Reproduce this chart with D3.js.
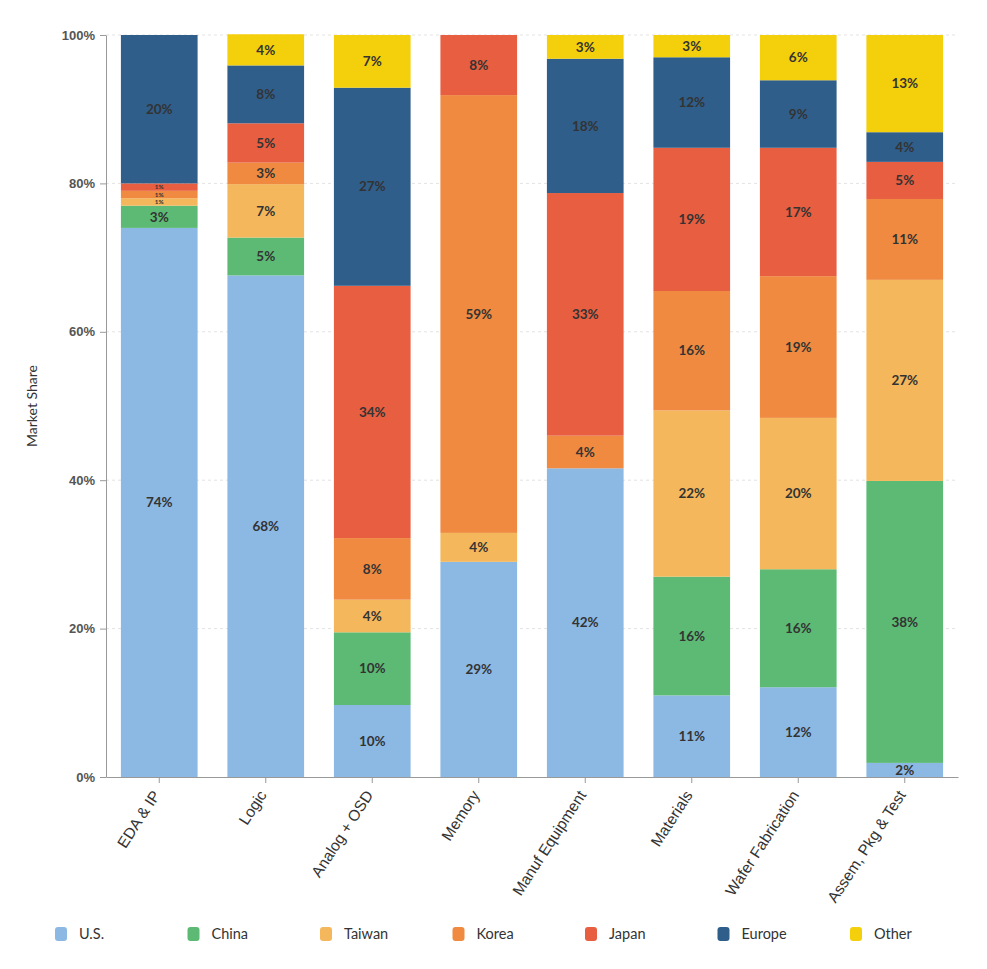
<!DOCTYPE html>
<html>
<head>
<meta charset="utf-8">
<script src="https://cdn.jsdelivr.net/npm/d3@7"></script>
<style>
  body { margin: 0; background: #fff; }
  svg { font-family: "Lato", "Open Sans", sans-serif; }
</style>
</head>
<body>
<svg id="chart" width="987" height="969"></svg>
<script>
// segments, categories and share values (percent)
let regions = ["U.S.", "China", "Taiwan", "Korea", "Japan", "Europe", "Other"];
let segments = ["EDA & IP", "Logic", "Analog + OSD", "Memory", "Manuf Equipment", "Materials", "Wafer Fabrication", "Assem, Pkg & Test"];
let usShare     = [74, 67.6, 9.7, 29, 41.6, 11, 12.1, 1.9];
let chinaShare  = [3, 5.1, 9.8, 0, 0, 16, 15.9, 38];
let taiwanShare = [1, 7.2, 4.4, 3.9, 0, 22.4, 20.4, 27.1];
let koreaShare  = [1, 2.9, 8.3, 59, 4.4, 16.1, 19.1, 10.9];
let japanShare  = [1, 5.3, 34, 8.1, 32.7, 19.3, 17.3, 5];
let europeShare = [20, 7.8, 26.7, 0, 18.1, 12.2, 9.1, 4];
let otherShare  = [0, 4.2, 7.1, 0, 3.2, 3, 6.1, 13.1];
let yTicks = [0, 20, 40, 60, 80, 100];
let colors = ["#8cb9e4", "#5cba74", "#f4b75b", "#ef8a40", "#e75e40", "#2f5e8b", "#f4cf0b"];

let seriesVals = [usShare, chinaShare, taiwanShare, koreaShare, japanShare, europeShare, otherShare];
let rows = segments.map((s, i) => {
  let r = { segment: s };
  regions.forEach((reg, j) => r[reg] = seriesVals[j][i]);
  return r;
});

let svg = d3.select("svg#chart");
let margin = { left: 106, right: 29, top: 35, bottom: 192 };
let W = 987, H = 969;

let x = d3.scaleBand()
  .domain(segments)
  .range([margin.left, W - margin.right])
  .paddingInner(0.28)
  .paddingOuter(0.14);

let y = d3.scaleLinear()
  .domain([0, 100])
  .range([H - margin.bottom, margin.top]);

let color = d3.scaleOrdinal().domain(regions).range(colors);

// gridlines
svg.append("g")
  .selectAll("line")
  .data(yTicks.filter(d => d > 0))
  .enter()
  .append("line")
  .attr("x1", margin.left)
  .attr("x2", W - margin.right)
  .attr("y1", d => y(d))
  .attr("y2", d => y(d))
  .style("stroke", "#e3e3e3")
  .style("stroke-dasharray", "3,3");

let stack = d3.stack().keys(regions)(rows);

let layers = svg.append("g")
  .selectAll("g")
  .data(stack)
  .enter()
  .append("g")
  .style("fill", d => color(d.key));

layers.selectAll("rect")
  .data(d => d.filter(p => p[1] - p[0] > 0))
  .enter()
  .append("rect")
  .attr("x", d => x(d.data.segment))
  .attr("width", x.bandwidth())
  .attr("y", d => y(d[1]))
  .attr("height", d => y(d[0]) - y(d[1]));

// value labels
let fmt = d3.format(".0f");
layers.selectAll("text")
  .data(d => d.filter(p => p[1] - p[0] > 0))
  .enter()
  .append("text")
  .attr("x", d => x(d.data.segment) + x.bandwidth() / 2)
  .attr("y", d => (y(d[0]) + y(d[1])) / 2)
  .attr("dy", "0.35em")
  .attr("text-anchor", "middle")
  .style("fill", "#333")
  .style("font-weight", "bold")
  .style("font-size", d => {
    let h = y(d[0]) - y(d[1]);
    return (h < 12 ? Math.max(6, h * 0.85) : 13.5) + "px";
  })
  .text(d => fmt(d[1] - d[0]) + "%");

// y axis
let yAxis = svg.append("g")
  .attr("transform", `translate(${margin.left},0)`)
  .call(d3.axisLeft(y).tickValues(yTicks).tickFormat(d => d + "%").tickSize(6).tickSizeOuter(0));
yAxis.select(".domain").style("stroke", "#999");
yAxis.selectAll(".tick line").style("stroke", "#999");
yAxis.selectAll("text")
  .style("font-size", "13px")
  .style("font-weight", "bold")
  .style("fill", "#555")
  .attr("x", -11);

// x axis
let xAxis = svg.append("g")
  .attr("transform", `translate(0,${H - margin.bottom})`)
  .call(d3.axisBottom(x).tickSize(6).tickSizeOuter(0));
xAxis.select(".domain").style("stroke", "#999");
xAxis.selectAll(".tick line").style("stroke", "#999");
xAxis.selectAll("text")
  .style("font-size", "15.5px")
  .style("fill", "#333")
  .attr("text-anchor", "end")
  .attr("dy", "0.35em")
  .attr("transform", "translate(-3,15) rotate(-57)")
  .attr("y", 0)
  .attr("x", 0);

// y title
svg.append("text")
  .attr("transform", `translate(37,${y(50)}) rotate(-90)`)
  .attr("text-anchor", "middle")
  .style("font-size", "14px")
  .style("fill", "#333")
  .text("Market Share");

// legend
let legend = svg.append("g")
  .selectAll("g")
  .data(regions)
  .enter()
  .append("g")
  .attr("transform", (d, i) => `translate(${55 + i * 132.5},934)`);

legend.append("rect")
  .attr("x", 0)
  .attr("y", -7)
  .attr("width", 12)
  .attr("height", 14)
  .attr("rx", 3)
  .style("fill", d => color(d));

legend.append("text")
  .attr("x", 24)
  .attr("dy", "0.35em")
  .style("font-size", "14.5px")
  .style("fill", "#333")
  .text(d => d);
</script>
</body>
</html>
